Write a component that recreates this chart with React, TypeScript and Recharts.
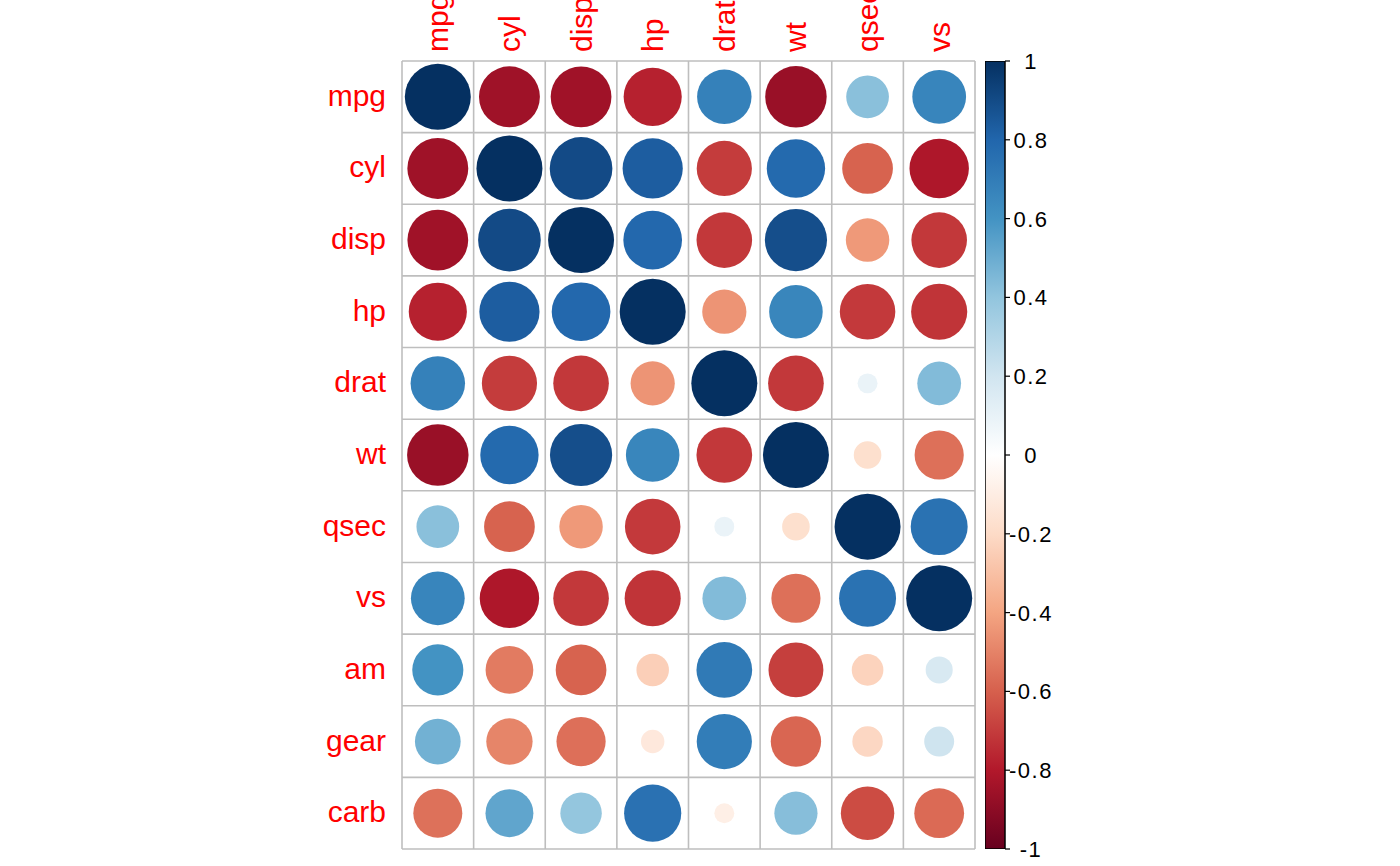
import { Bar, BarChart, Cell, ReferenceLine, Scatter, ScatterChart, XAxis, YAxis, ZAxis } from 'recharts'

const rowNames = ['mpg', 'cyl', 'disp', 'hp', 'drat', 'wt', 'qsec', 'vs', 'am', 'gear', 'carb']
const colNames = ['mpg', 'cyl', 'disp', 'hp', 'drat', 'wt', 'qsec', 'vs']

// correlations, one row per variable, columns = mpg..vs
const mpgRow = [1, -0.852, -0.848, -0.776, 0.681, -0.868, 0.419, 0.664]
const cylRow = [-0.852, 1, 0.902, 0.832, -0.7, 0.782, -0.591, -0.811]
const dispRow = [-0.848, 0.902, 1, 0.791, -0.71, 0.888, -0.434, -0.71]
const hpRow = [-0.776, 0.832, 0.791, 1, -0.449, 0.659, -0.708, -0.723]
const dratRow = [0.681, -0.7, -0.71, -0.449, 1, -0.712, 0.091, 0.44]
const wtRow = [-0.868, 0.782, 0.888, 0.659, -0.712, 1, -0.175, -0.555]
const qsecRow = [0.419, -0.591, -0.434, -0.708, 0.091, -0.175, 1, 0.745]
const vsRow = [0.664, -0.811, -0.71, -0.723, 0.44, -0.555, 0.745, 1]
const amRow = [0.6, -0.523, -0.591, -0.243, 0.713, -0.692, -0.23, 0.168]
const gearRow = [0.48, -0.493, -0.556, -0.126, 0.7, -0.583, -0.213, 0.206]
const carbRow = [-0.551, 0.527, 0.395, 0.75, -0.091, 0.428, -0.656, -0.57]

const corRows = [mpgRow, cylRow, dispRow, hpRow, dratRow, wtRow, qsecRow, vsRow, amRow, gearRow, carbRow]

const barTicks = [-1, -0.8, -0.6, -0.4, -0.2, 0, 0.2, 0.4, 0.6, 0.8, 1]
const legendRange = [{ key: 'scale', range: [-1, 1] }]

const PALETTE = [
  '#67001F', '#B2182B', '#D6604D', '#F4A582', '#FDDBC7', '#FFFFFF',
  '#D1E5F0', '#92C5DE', '#4393C3', '#2166AC', '#053061',
]

const FONT = '"Liberation Sans", Arial, sans-serif'
const GRID = '#BEBEBE'

function hexToRgb(h: string) {
  return [1, 3, 5].map((i) => parseInt(h.slice(i, i + 2), 16))
}

function colorOf(v: number) {
  const t = ((v + 1) / 2) * (PALETTE.length - 1)
  const i = Math.min(Math.floor(t), PALETTE.length - 2)
  const f = t - i
  const a = hexToRgb(PALETTE[i])
  const b = hexToRgb(PALETTE[i + 1])
  const c = a.map((x, k) => Math.round(x + (b[k] - x) * f))
  return `rgb(${c[0]},${c[1]},${c[2]})`
}

const points = corRows.flatMap((row, i) =>
  row.map((r, j) => ({ x: j + 0.5, y: i + 0.5, r, abs: Math.abs(r) })),
)

const colTicks = colNames.map((_, j) => j + 0.5)
const rowTicks = rowNames.map((_, i) => i + 0.5)
const vLines = Array.from({ length: colNames.length + 1 }, (_, k) => k)
const hLines = Array.from({ length: rowNames.length + 1 }, (_, k) => k)

function ColTick(props: any) {
  const { x, y, payload } = props
  const label = colNames[Math.floor(payload.value)]
  const ty = y - 1
  return (
    <text
      x={x}
      y={ty}
      transform={`rotate(-90, ${x}, ${ty})`}
      textAnchor="start"
      dominantBaseline="central"
      fill="#FF0000"
      fontSize={30}
      fontFamily={FONT}
    >
      {label}
    </text>
  )
}

function RowTick(props: any) {
  const { x, y, payload } = props
  const label = rowNames[Math.floor(payload.value)]
  return (
    <text x={x - 16} y={y + 9} textAnchor="end" fill="#FF0000" fontSize={30} fontFamily={FONT}>
      {label}
    </text>
  )
}

function BarTick(props: any) {
  const { y, payload } = props
  const v = Number(Number(payload.value).toFixed(1))
  return (
    <text x={46} y={y + 8} textAnchor="middle" fill="#000" fontSize={22} letterSpacing={1.5} fontFamily={FONT}>
      {String(v)}
    </text>
  )
}

export default function App() {
  return (
    <div style={{ position: 'absolute', left: 0, top: 0, width: 1400, height: 866, background: '#fff' }}>
      <svg width={0} height={0} style={{ position: 'absolute' }}>
        <defs>
          <linearGradient id="corrBar" x1="0" y1="1" x2="0" y2="0">
            {PALETTE.map((c, i) => (
              <stop key={i} offset={i / (PALETTE.length - 1)} stopColor={c} />
            ))}
          </linearGradient>
        </defs>
      </svg>

      <div style={{ position: 'absolute', left: 0, top: 0 }}>
        <ScatterChart width={1400} height={866} margin={{ top: 0, left: 302, right: 425, bottom: 17 }}>
          <XAxis
            type="number"
            dataKey="x"
            orientation="top"
            domain={[0, colNames.length]}
            ticks={colTicks}
            interval={0}
            tick={<ColTick />}
            tickLine={false}
            axisLine={false}
            height={61}
            allowDataOverflow
          />
          <YAxis
            type="number"
            dataKey="y"
            domain={[0, rowNames.length]}
            reversed
            ticks={rowTicks}
            interval={0}
            tick={<RowTick />}
            tickLine={false}
            axisLine={false}
            tickSize={0}
            tickMargin={0}
            width={100}
            allowDataOverflow
          />
          <ZAxis type="number" dataKey="abs" domain={[0, 1]} range={[0, Math.PI * 33 * 33]} />
          {vLines.map((k) => (
            <ReferenceLine key={`v${k}`} x={k} stroke={GRID} strokeWidth={1.6} />
          ))}
          {hLines.map((k) => (
            <ReferenceLine key={`h${k}`} y={k} stroke={GRID} strokeWidth={1.6} />
          ))}
          <Scatter data={points} shape="circle" isAnimationActive={false}>
            {points.map((p, i) => (
              <Cell key={i} fill={colorOf(p.r)} />
            ))}
          </Scatter>
        </ScatterChart>
      </div>

      <div style={{ position: 'absolute', left: 985, top: 0 }}>
        <BarChart
          width={100}
          height={866}
          data={legendRange}
          margin={{ top: 61, left: 0, right: 0, bottom: 17 }}
          barCategoryGap={0}
        >
          <XAxis dataKey="key" hide />
          <YAxis
            type="number"
            orientation="right"
            domain={[-1, 1]}
            ticks={barTicks}
            interval={0}
            tick={<BarTick />}
            tickSize={5}
            tickLine={{ stroke: '#000', strokeWidth: 1.2 }}
            axisLine={false}
            width={80}
            allowDataOverflow
          />
          <Bar dataKey="range" fill="url(#corrBar)" stroke="#000" strokeWidth={1.5} isAnimationActive={false} />
        </BarChart>
      </div>
    </div>
  )
}
